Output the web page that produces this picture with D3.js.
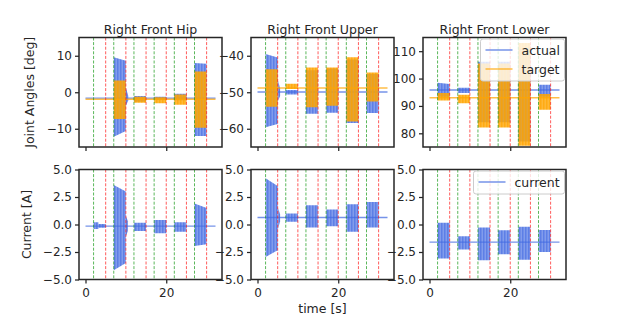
<!DOCTYPE html>
<html><head><meta charset="utf-8">
<script src="https://cdn.jsdelivr.net/npm/d3@7"></script>
<style>body{margin:0;background:#fff}svg{font-family:"DejaVu Sans",sans-serif}</style>
</head><body>
<svg id="c" width="629" height="316"></svg>
<script>
// ---------------- data ----------------
const titles = ["Right Front Hip", "Right Front Upper", "Right Front Lower"];
const timeRange = [0, 32.2];
const xTicks = [0, 20];
const greenEvents = [2, 7, 12, 17, 22, 27];
const redEvents = [5, 10, 15, 20, 25, 30];

const hipDomain = [-15, 15];
const upperDomain = [-65, -35];
const lowerDomain = [75, 115];
const currentDomain = [-5, 5];
const hipTicks = [-10, 0, 10];
const upperTicks = [-60, -50, -40];
const lowerTicks = [80, 90, 100, 110];
const currentTicks = [-5, -2.5, 0, 2.5, 5];

// baselines (value between bursts)
const hipActualBase = -1.6, hipTargetBase = -1.9;
const upperActualBase = -49.95, upperTargetBase = -48.85;
const lowerActualBase = 95.8, lowerTargetBase = 93.0;
const hipCurrentBase = -0.15, upperCurrentBase = 0.64, lowerCurrentBase = -1.6;

// bursts: [tStart, tEnd, highStart, highEnd, lowStart, lowEnd]
const hipActual = [
  [7, 10, 9.6, 8.6, -12.2, -10.6], [10, 10.6, 1.3, -1.0, -3.8, -2.2],
  [12, 15, -1.0, -1.0, -2.6, -2.6], [17, 20, -1.2, -1.2, -2.1, -2.1],
  [22, 25, -0.4, -0.4, -2.2, -2.2], [27, 30, 8.0, 7.8, -12.0, -12.0]];
const hipTarget = [
  [7, 10, 3.2, 3.2, -7.3, -7.3], [12, 15, -1.2, -1.2, -2.9, -2.9],
  [17, 20, -1.4, -1.4, -3.0, -3.0], [22, 25, -0.6, -0.6, -3.4, -3.4],
  [27, 30, 5.7, 5.7, -9.7, -9.7]];
const upperActual = [
  [2, 5, -39.5, -40.5, -59.6, -58.7], [5, 5.6, -46.5, -49, -52.5, -51],
  [7, 10, -49.4, -49.4, -50.6, -50.6], [12, 15, -44, -44, -55.9, -55.9],
  [17, 20, -43.5, -43.5, -55.6, -55.6], [22, 25, -41, -41, -58.4, -58.4],
  [27, 30, -45, -45, -55.7, -55.7]];
const upperTarget = [
  [2, 5, -43.7, -43.7, -54.0, -54.0], [7, 10, -47.7, -47.7, -49.1, -49.1],
  [12, 15, -43.2, -43.2, -54.1, -54.1], [17, 20, -43.2, -43.2, -53.7, -53.7],
  [22, 25, -40.4, -40.4, -58.0, -58.0], [27, 30, -44.6, -44.6, -52.5, -52.5]];
const lowerActual = [
  [2, 5, 98.5, 98.0, 93.4, 93.4], [7, 10, 96.6, 96.6, 94.7, 94.7],
  [12, 15, 106.1, 106.1, 84, 84], [17, 20, 106.1, 106.1, 84, 84],
  [22, 25, 111, 111, 77, 77], [27, 30, 97.7, 97.7, 93.4, 93.4]];
const lowerTarget = [
  [2, 5, 94.7, 94.7, 92.0, 92.0], [7, 10, 94.1, 94.1, 91.0, 91.0],
  [12, 15, 105.5, 105.5, 82.1, 82.1], [17, 20, 105.5, 105.5, 82.1, 82.1],
  [22, 25, 113, 113, 75.5, 75.5], [27, 30, 94.4, 94.4, 88.6, 88.6]];
const hipCurrent = [
  [2, 3.2, 0.2, 0.2, -0.4, -0.4], [3.2, 5, 0.05, 0.05, -0.3, -0.3],
  [7, 10, 3.6, 3.0, -4.15, -3.5], [10, 10.5, 0.8, 0.3, -1.1, -0.6],
  [12, 15, 0.15, 0.15, -0.6, -0.6], [17, 20, 0.4, 0.4, -0.8, -0.8],
  [22, 25, 0.2, 0.2, -0.65, -0.65], [27, 30, 1.9, 1.5, -1.95, -1.8]];
const upperCurrent = [
  [2, 5, 4.2, 3.5, -2.95, -2.35], [5, 5.6, 1.6, 0.9, -0.5, 0.3],
  [7, 10, 1.0, 1.0, 0.25, 0.25], [12, 15, 1.75, 1.75, -0.27, -0.27],
  [17, 20, 1.36, 1.36, -0.15, -0.15], [22, 25, 1.85, 1.85, -0.67, -0.67],
  [27, 30, 2.05, 2.05, -0.27, -0.27]];
const lowerCurrent = [
  [2, 5, 0.15, 0.15, -3.1, -3.1], [7, 10, -1.06, -1.06, -2.27, -2.27],
  [12, 15, -0.27, -0.27, -3.25, -3.25], [17, 20, -0.52, -0.52, -2.7, -2.7],
  [22, 25, -0.2, -0.2, -3.2, -3.2], [27, 30, -0.5, -0.5, -2.5, -2.5]];

// ---------------- layout / style ----------------
const BLUE = "#4169e1", ORANGE = "#ffa500", INK = "#262626";
const colLeft = [79, 251, 423], panelW = 143;
const rowBox = [{top: 37.5, bottom: 147}, {top: 169.5, bottom: 279.5}];
const svg = d3.select("#c");
const defs = svg.append("defs");

function stripePattern(id, color, lo, hi) {
  const p = defs.append("pattern").attr("id", id).attr("patternUnits", "userSpaceOnUse")
    .attr("width", 1.5).attr("height", 4);
  p.append("rect").attr("width", 1.5).attr("height", 4).attr("fill", color).attr("fill-opacity", lo);
  p.append("rect").attr("width", 0.9).attr("height", 4).attr("fill", color).attr("fill-opacity", hi);
}
stripePattern("pBlue", BLUE, 0.55, 0.78);
stripePattern("pOrange", ORANGE, 0.7, 0.85);

const span = timeRange[1] - timeRange[0];
const xDomain = [timeRange[0] - 0.05 * span, timeRange[1] + 0.05 * span];

const panels = [
  {row: 0, col: 0, domain: hipDomain, ticks: hipTicks, series: [[hipActual, hipActualBase, "pBlue", BLUE], [hipTarget, hipTargetBase, "pOrange", ORANGE]]},
  {row: 0, col: 1, domain: upperDomain, ticks: upperTicks, series: [[upperActual, upperActualBase, "pBlue", BLUE], [upperTarget, upperTargetBase, "pOrange", ORANGE]]},
  {row: 0, col: 2, domain: lowerDomain, ticks: lowerTicks, series: [[lowerActual, lowerActualBase, "pBlue", BLUE], [lowerTarget, lowerTargetBase, "pOrange", ORANGE]]},
  {row: 1, col: 0, domain: currentDomain, ticks: currentTicks, series: [[hipCurrent, hipCurrentBase, "pBlue", BLUE]]},
  {row: 1, col: 1, domain: currentDomain, ticks: currentTicks, series: [[upperCurrent, upperCurrentBase, "pBlue", BLUE]]},
  {row: 1, col: 2, domain: currentDomain, ticks: currentTicks, series: [[lowerCurrent, lowerCurrentBase, "pBlue", BLUE]]}
];

panels.forEach((p, i) => {
  const x0 = colLeft[p.col], box = rowBox[p.row];
  const x = d3.scaleLinear().domain(xDomain).range([x0, x0 + panelW]);
  const y = d3.scaleLinear().domain(p.domain).range([box.bottom, box.top]);
  const g = svg.append("g");
  const clipId = "clip" + i;
  defs.append("clipPath").attr("id", clipId).append("rect")
    .attr("x", x0).attr("y", box.top).attr("width", panelW).attr("height", box.bottom - box.top);
  const data = g.append("g").attr("clip-path", `url(#${clipId})`);

  const line = d3.line().x(d => x(d[0])).y(d => y(d[1]));
  const area = d3.area().x(d => x(d.t)).y0(d => y(d.lo)).y1(d => y(d.hi));
  p.series.forEach(([bursts, base, pat, col]) => {
    data.append("path").attr("d", line([[timeRange[0], base], [timeRange[1], base]]))
      .attr("fill", "none").attr("stroke", col).attr("stroke-opacity", 0.72).attr("stroke-width", 1.4);
    bursts.forEach(b => {
      data.append("path")
        .attr("d", area([{t: b[0], hi: b[2], lo: b[4]}, {t: b[1], hi: b[3], lo: b[5]}]))
        .attr("fill", `url(#${pat})`);
    });
  });

  // event lines
  const ev = data.append("g");
  greenEvents.forEach(t => ev.append("line").attr("x1", x(t)).attr("x2", x(t))
    .attr("y1", box.top).attr("y2", box.bottom).attr("stroke", "#1a9a1a").attr("stroke-opacity", 0.8)
    .attr("stroke-width", 0.9).attr("stroke-dasharray", "3,1.6"));
  redEvents.forEach(t => ev.append("line").attr("x1", x(t)).attr("x2", x(t))
    .attr("y1", box.top).attr("y2", box.bottom).attr("stroke", "#ff1a1a").attr("stroke-opacity", 0.8)
    .attr("stroke-width", 0.9).attr("stroke-dasharray", "3,1.6"));

  // axes
  const fmt = p.row === 1 ? d3.format(".1f") : d3.format("d");
  const ya = g.append("g").attr("transform", `translate(${x0},0)`)
    .call(d3.axisLeft(y).tickValues(p.ticks).tickSize(4).tickPadding(3).tickFormat(v => fmt(v).replace("-", "\u2212")));
  const xa = g.append("g").attr("transform", `translate(0,${box.bottom})`)
    .call(d3.axisBottom(x).tickValues(xTicks).tickSize(4).tickPadding(5).tickFormat(p.row === 1 ? d3.format("d") : () => ""));
  [ya, xa].forEach(a => {
    a.select(".domain").remove();
    a.selectAll(".tick line").attr("stroke", INK).attr("stroke-width", 1.25);
    a.selectAll(".tick text").attr("fill", INK).attr("font-size", 12).attr("font-family", "DejaVu Sans");
  });
  g.append("rect").attr("x", x0).attr("y", box.top).attr("width", panelW).attr("height", box.bottom - box.top)
    .attr("fill", "none").attr("stroke", INK).attr("stroke-width", 1.5);

  if (p.row === 0) {
    g.append("text").attr("x", x0 + panelW / 2).attr("y", 34.3).attr("text-anchor", "middle")
      .attr("font-size", 12.5).attr("fill", INK).text(titles[p.col]);
  }
});

// axis labels
svg.append("text").attr("transform", `translate(34.3,${(rowBox[0].top + rowBox[0].bottom) / 2}) rotate(-90)`)
  .attr("text-anchor", "middle").attr("font-size", 12.5).attr("fill", INK).text("Joint Angles [deg]");
svg.append("text").attr("transform", `translate(30.7,${(rowBox[1].top + rowBox[1].bottom) / 2}) rotate(-90)`)
  .attr("text-anchor", "middle").attr("font-size", 12.5).attr("fill", INK).text("Current [A]");
svg.append("text").attr("x", colLeft[1] + panelW / 2).attr("y", 312.5).attr("text-anchor", "middle")
  .attr("font-size", 12.5).attr("fill", INK).text("time [s]");

// legends
function legend(x, y, w, items) {
  const g = svg.append("g");
  g.append("rect").attr("x", x).attr("y", y).attr("width", w).attr("height", 8 + items.length * 19 - 4)
    .attr("rx", 2.5).attr("fill", "#fff").attr("fill-opacity", 0.8).attr("stroke", "#cccccc").attr("stroke-width", 1);
  items.forEach(([label, col], k) => {
    const cy = y + 11 + k * 19;
    g.append("line").attr("x1", x + 5).attr("x2", x + 32).attr("y1", cy).attr("y2", cy)
      .attr("stroke", col).attr("stroke-opacity", 0.72).attr("stroke-width", 1.5);
    g.append("text").attr("x", x + 41).attr("y", cy).attr("dy", "0.36em").attr("font-size", 12.5)
      .attr("fill", INK).text(label);
  });
}
legend(480.5, 39, 84, [["actual", BLUE], ["target", ORANGE]]);
legend(473.5, 171, 91, [["current", BLUE]]);
</script>
</body></html>
